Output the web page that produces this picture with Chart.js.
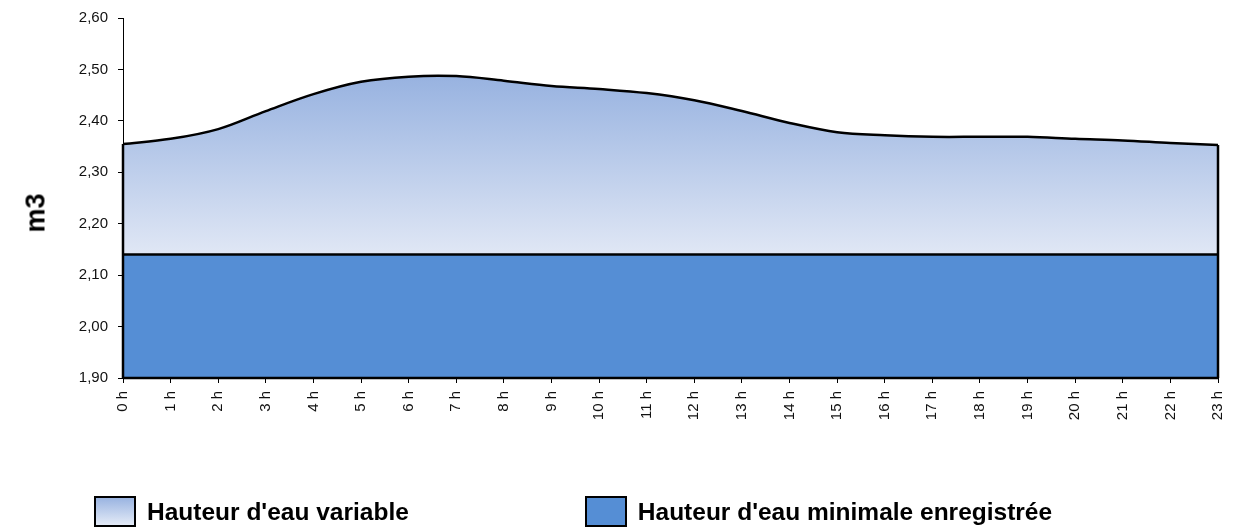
<!DOCTYPE html>
<html lang="fr">
<head>
    <meta charset="UTF-8">
    <title>Hauteur d'eau</title>
    <script src="https://cdn.jsdelivr.net/npm/chart.js"></script>
    <style>
        body { margin: 0; background: #fff; font-family: Arial, "Liberation Sans", sans-serif; }
        .wrap { position: relative; width: 1240px; height: 530px; overflow: hidden; }
        .ytitle { position: absolute; left: 36px; top: 213px; transform: translate(-50%, -50%) rotate(-90deg);
                  font-weight: bold; font-size: 27px; color: #000; white-space: nowrap; }
        .legend { position: absolute; top: 496px; left: 94px; display: flex; font-weight: bold; font-size: 24.5px; color: #000; }
        .item { display: flex; align-items: center; }
        .box { box-sizing: border-box; width: 42px; height: 31px; border: 2px solid #000; margin-right: 11px; }
    </style>
</head>
<body>
    <div class="wrap">
        <canvas id="chart" width="1240" height="530"></canvas>
        <div class="ytitle">m3</div>
        <div class="legend">
            <div class="item" style="margin-right: 176px"><span class="box" style="background: linear-gradient(#9ab4e1, #e4ebf7)"></span>Hauteur d'eau variable</div>
            <div class="item"><span class="box" style="background: #558ed5"></span>Hauteur d'eau minimale enregistrée</div>
        </div>
    </div>
    <script>
        const hours = ['0 h','1 h','2 h','3 h','4 h','5 h','6 h','7 h','8 h','9 h','10 h','11 h',
                       '12 h','13 h','14 h','15 h','16 h','17 h','18 h','19 h','20 h','21 h','22 h','23 h'];
        const variableHeight = [2.355, 2.365, 2.384, 2.419, 2.452, 2.476, 2.486, 2.487, 2.478, 2.468, 2.462, 2.454,
                                2.440, 2.419, 2.396, 2.378, 2.372, 2.369, 2.369, 2.369, 2.365, 2.362, 2.357, 2.353];
        const minHeight = hours.map(() => 2.14);
        const yMin = 1.9, yMax = 2.6, yStep = 0.1;

        function gradientFill(ctx) {
            const area = ctx.chart.chartArea;
            if (!area) return '#b8c9ea';
            const y = ctx.chart.scales.y;
            const g = ctx.chart.ctx.createLinearGradient(0, y.getPixelForValue(2.49), 0, y.getPixelForValue(2.14));
            g.addColorStop(0, '#97b2e0');
            g.addColorStop(1, '#e0e7f5');
            return g;
        }

        // black outline on the left, right and bottom edges of the areas
        const edgePlugin = {
            id: 'edges',
            afterDatasetsDraw(chart) {
                const { ctx, scales: { x, y } } = chart;
                const last = hours.length - 1;
                ctx.save();
                ctx.strokeStyle = '#000';
                ctx.lineWidth = 2.5;
                [[0, variableHeight[0]], [last, variableHeight[last]]].forEach(([i, v]) => {
                    const px = x.getPixelForValue(i);
                    ctx.beginPath();
                    ctx.moveTo(px, y.getPixelForValue(v));
                    ctx.lineTo(px, y.getPixelForValue(yMin));
                    ctx.stroke();
                });
                ctx.beginPath();
                ctx.moveTo(x.getPixelForValue(0), y.getPixelForValue(yMin));
                ctx.lineTo(x.getPixelForValue(last), y.getPixelForValue(yMin));
                ctx.stroke();
                ctx.restore();
            }
        };

        new Chart(document.getElementById('chart').getContext('2d'), {
            type: 'line',
            data: {
                labels: hours,
                datasets: [
                    { label: "Hauteur d'eau minimale enregistrée", data: minHeight, fill: 'start',
                      backgroundColor: '#558ed5', borderColor: '#000', borderWidth: 2.5, pointRadius: 0, order: 1 },
                    { label: "Hauteur d'eau variable", data: variableHeight, fill: 'start',
                      backgroundColor: gradientFill, borderColor: '#000', borderWidth: 2.5, pointRadius: 0,
                      tension: 0.35, order: 2 }
                ]
            },
            options: {
                responsive: false,
                animation: false,
                layout: { padding: { left: 20, top: 18, right: 22, bottom: 107 } },
                plugins: { legend: { display: false }, tooltip: { enabled: false } },
                scales: {
                    x: {
                        offset: false,
                        afterFit: s => { s.height = 45; s.paddingLeft = 0; s.paddingRight = 0; },
                        grid: { display: true, drawOnChartArea: false, color: '#000', tickLength: 5 },
                        border: { color: '#000', width: 1 },
                        ticks: { color: '#111', font: { family: 'Arial', size: 15 }, minRotation: 90, maxRotation: 90, padding: 8, autoSkip: false }
                    },
                    y: {
                        min: yMin, max: yMax,
                        afterFit: s => { s.width = 103; s.paddingTop = 0; s.paddingBottom = 0; },
                        grid: { display: true, drawOnChartArea: false, color: '#000', tickLength: 5 },
                        border: { color: '#000', width: 1 },
                        ticks: { stepSize: yStep, color: '#111', font: { family: 'Arial', size: 15 }, padding: 10,
                                 callback: v => v.toFixed(2).replace('.', ',') }
                    }
                }
            },
            plugins: [edgePlugin]
        });
    </script>
</body>
</html>
